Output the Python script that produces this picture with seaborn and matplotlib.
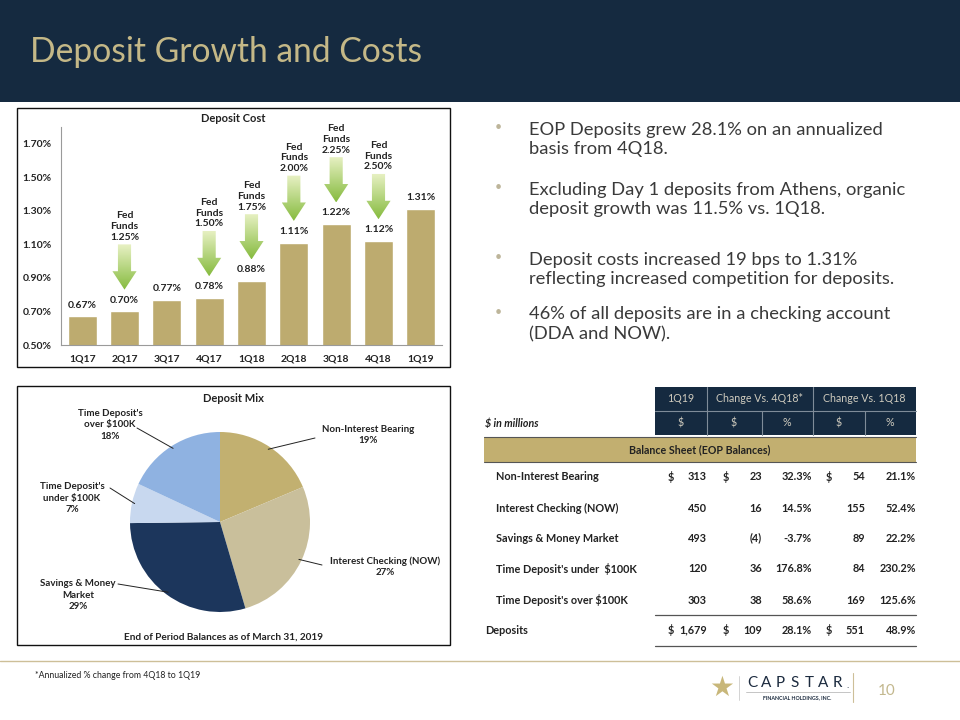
import numpy as np
import matplotlib
matplotlib.use("Agg")
import matplotlib.pyplot as plt
import seaborn as sns
from matplotlib.patches import Rectangle, Polygon
from matplotlib.lines import Line2D
from matplotlib.colors import LinearSegmentedColormap

# ---- data -------------------------------------------------------------
quarters = ['1Q17', '2Q17', '3Q17', '4Q17', '1Q18', '2Q18', '3Q18', '4Q18', '1Q19']
deposit_cost = [0.67, 0.70, 0.77, 0.78, 0.88, 1.11, 1.22, 1.12, 1.31]
fed_funds = [None, 1.25, None, 1.50, 1.75, 2.00, 2.25, 2.50, None]

mix_labels = ['Non-Interest Bearing', 'Interest Checking (NOW)', 'Savings & Money\nMarket',
              "Time Deposit's\nunder $100K", "Time Deposit's\nover $100K"]
row_labels = ['Non-Interest Bearing', 'Interest Checking (NOW)', 'Savings & Money Market',
              "Time Deposit's under  $100K", "Time Deposit's over $100K"]
bal_1q19 = [313, 450, 493, 120, 303]
chg_4q18 = [23, 16, -4, 36, 38]
pct_4q18 = [32.3, 14.5, -3.7, 176.8, 58.6]
chg_1q18 = [54, 155, 89, 84, 169]
pct_1q18 = [21.1, 52.4, 22.2, 230.2, 125.6]
total_pct_4q18 = 28.1
total_pct_1q18 = 48.9

bullets = ["EOP Deposits grew 28.1% on an annualized\nbasis from 4Q18.",
           "Excluding Day 1 deposits from Athens, organic\ndeposit growth was 11.5% vs. 1Q18.",
           "Deposit costs increased 19 bps to 1.31%\nreflecting increased competition for deposits.",
           "46% of all deposits are in a checking account\n(DDA and NOW)."]

# ---- style ------------------------------------------------------------
NAVY = '#152A40'
GOLD = '#C4B887'
BAR = '#BDAB6F'
PIE_COLORS = ['#C2B070', '#C9BF9B', '#1C365C', '#C8D8EF', '#8FB2E1']
TXT = '#222222'

sns.set_style('white')
plt.rcParams['font.family'] = ['Lato', 'DejaVu Sans']

W, H = 960, 720
fig = plt.figure(figsize=(9.6, 7.2), dpi=100)
fig.patch.set_facecolor('white')


def fx(x):
    return x / W


def fy(y):
    return 1 - y / H


def ftext(x, y, s, **kw):
    return fig.text(fx(x), fy(y), s, **kw)


def fline(xs, ys, **kw):
    fig.add_artist(Line2D([fx(x) for x in xs], [fy(y) for y in ys], transform=fig.transFigure, **kw))


def frect(x0, y0, x1, y1, **kw):
    fig.add_artist(Rectangle((fx(x0), fy(y1)), fx(x1) - fx(x0), fy(y0) - fy(y1),
                             transform=fig.transFigure, **kw))


# ---- header -----------------------------------------------------------
frect(0, 0, W, 102, facecolor=NAVY, edgecolor='none')
ftext(30, 52, 'Deposit Growth and Costs', color=GOLD, fontsize=24.2, va='center', ha='left')

# ---- deposit cost bar chart ------------------------------------------
frect(17, 108, 450, 367, facecolor='none', edgecolor='#111111', lw=1)
ax = fig.add_axes([fx(61), fy(345), fx(442) - fx(61), fy(127) - fy(345)])
sns.barplot(x=quarters, y=deposit_cost, color=BAR, saturation=1, width=0.68, ax=ax, zorder=2)
for i, v in enumerate(deposit_cost):
    ax.annotate(f'{v:.2f}%', (i, v), xytext=(0, 5), textcoords='offset points',
                ha='center', va='bottom', fontsize=7.5, fontweight='bold', color=TXT)

cmap = LinearSegmentedColormap.from_list('arrow', ['#86BB3F', '#E8F1C4'])
grad = np.linspace(0, 1, 64).reshape(-1, 1)
for i, (v, ff) in enumerate(zip(deposit_cost, fed_funds)):
    if ff is None:
        continue
    tip = v + 0.13
    neck = tip + 0.11
    top = tip + 0.27
    sw, hw = 0.155, 0.285
    pts = [(i - sw, top), (i + sw, top), (i + sw, neck), (i + hw, neck), (i, tip),
           (i - hw, neck), (i - sw, neck)]
    poly = Polygon(pts, closed=True, facecolor='none', edgecolor='none')
    ax.add_patch(poly)
    im = ax.imshow(grad, extent=[i - hw, i + hw, tip, top], origin='lower', cmap=cmap,
                   aspect='auto', zorder=3)
    im.set_clip_path(poly)
    ax.text(i, top + 0.015, f'Fed\nFunds\n{ff:.2f}%', ha='center', va='bottom',
            fontsize=7.5, fontweight='bold', color=TXT, linespacing=1.25)

ax.set_xlim(-0.5, len(quarters) - 0.5)
ax.set_ylim(0.5, 1.8)
yt = np.arange(0.5, 1.71, 0.2)
ax.set_yticks(yt)
ax.set_yticklabels([f'{t:.2f}%' for t in yt])
ax.tick_params(axis='both', length=0, labelsize=7.5, colors=TXT, pad=7)
for lab in ax.get_xticklabels() + ax.get_yticklabels():
    lab.set_fontweight('bold')
for s in ['top', 'right']:
    ax.spines[s].set_visible(False)
for s in ['left', 'bottom']:
    ax.spines[s].set_color('#9A9A9A')
    ax.spines[s].set_linewidth(0.8)
ax.set_xlabel('')
ax.set_ylabel('')
ax.set_facecolor('none')
ftext(233, 119, 'Deposit Cost', ha='center', va='center', fontsize=8, fontweight='bold', color=TXT)

# ---- deposit mix pie --------------------------------------------------
frect(17, 386, 450, 645, facecolor='none', edgecolor='#111111', lw=1)
ax2 = fig.add_axes([fx(130), fy(612), 180 / W, 180 / H])
wedges, _ = ax2.pie(bal_1q19, colors=PIE_COLORS, startangle=90, counterclock=False,
                    radius=1, wedgeprops=dict(linewidth=0))
ax2.set_xlim(-1, 1)
ax2.set_ylim(-1, 1)
ax2.axis('off')
total = sum(bal_1q19)
label_pos = [(368, 435), (385, 567), (78, 595), (72, 498), (110, 425)]
line_end = [(315, 438), (322, 565), (118, 584), (110, 488), (137, 428)]
for w, lab, val, (lx, ly), (ex, ey) in zip(wedges, mix_labels, bal_1q19, label_pos, line_end):
    ang = np.deg2rad((w.theta1 + w.theta2) / 2)
    ax2.annotate('', xy=(0.97 * np.cos(ang), 0.97 * np.sin(ang)), xycoords='data',
                 xytext=(fx(ex), fy(ey)), textcoords='figure fraction',
                 arrowprops=dict(arrowstyle='-', color='#222222', lw=0.7, shrinkA=0, shrinkB=0))
    ftext(lx, ly, f'{lab}\n{val / total * 100:.0f}%', ha='center', va='center', fontsize=7,
          fontweight='bold', color=TXT, linespacing=1.3)
ftext(233, 398, 'Deposit Mix', ha='center', va='center', fontsize=8, fontweight='bold', color=TXT)
ftext(223, 637, 'End of Period Balances as of March 31, 2019', ha='center', va='center',
      fontsize=7.2, fontweight='bold', color=TXT)

# ---- bullets ----------------------------------------------------------
for txt, yc in zip(bullets, [139.5, 199.5, 269.5, 324.5]):
    ftext(498, yc - 12.5, '\u2022', ha='center', va='center', fontsize=9, color='#BDB59A')
    ftext(529, yc, txt, ha='left', va='center', fontsize=13.2, color='#3A3A3A', linespacing=1.3)

# ---- table ------------------------------------------------------------
frect(655, 387, 916, 435, facecolor=NAVY, edgecolor='none')
hdr = '#CFCBBE'
fline([655, 916], [411, 411], color='#7F8C99', lw=0.8)
for x in [707, 813]:
    fline([x, x], [387, 435], color='#7F8C99', lw=0.8)
for x in [762, 865]:
    fline([x, x], [411, 435], color='#7F8C99', lw=0.8)
for s, x in [('1Q19', 681), ('Change Vs. 4Q18*', 760), ('Change Vs. 1Q18', 864)]:
    ftext(x, 399, s, ha='center', va='center', fontsize=7.7, color=hdr)
for s, x in [('$', 681), ('$', 734), ('%', 787), ('$', 839), ('%', 890)]:
    ftext(x, 423, s, ha='center', va='center', fontsize=7.7, color=hdr)
ftext(485, 423, '$ in millions', ha='left', va='center', fontsize=7.7, style='italic',
      fontweight='bold', color=TXT)
frect(484, 437, 916, 462, facecolor='#C2AF70', edgecolor='none')
fline([484, 916], [437, 437], color='#555555', lw=0.8)
fline([484, 916], [462, 462], color='#555555', lw=0.8)
ftext(700, 450, 'Balance Sheet (EOP Balances)', ha='center', va='center', fontsize=7.7,
      fontweight='bold', color=TXT)


def money(v):
    return f'({abs(v):,})' if v < 0 else f'{v:,}'


def table_row(y, label, lx, b, c4, p4, c1, p1, dollars):
    kw = dict(va='center', fontsize=7.8, fontweight='bold', color=TXT)
    ftext(lx, y, label, ha='left', **kw)
    if dollars:
        for x in [668, 723, 826]:
            ftext(x, y, '$', ha='left', **kw)
    ftext(707, y, money(b), ha='right', **kw)
    ftext(762, y, money(c4), ha='right', **kw)
    ftext(812, y, f'{p4:.1f}%', ha='right', **kw)
    ftext(865, y, money(c1), ha='right', **kw)
    ftext(916, y, f'{p1:.1f}%', ha='right', **kw)


for k, y in enumerate([477, 508, 538, 569, 600]):
    table_row(y, row_labels[k], 496, bal_1q19[k], chg_4q18[k], pct_4q18[k],
              chg_1q18[k], pct_1q18[k], k == 0)
table_row(630, 'Deposits', 485, sum(bal_1q19), sum(chg_4q18), total_pct_4q18,
          sum(chg_1q18), total_pct_1q18, True)
fline([655, 916], [615, 615], color='#555555', lw=0.9)
fline([655, 916], [646, 646], color='#555555', lw=0.9)

# ---- footer -----------------------------------------------------------
fline([0, W], [661, 661], color='#CDBF98', lw=1)
ftext(35, 676, '*Annualized % change from 4Q18 to 1Q19', ha='left', va='center',
      fontsize=6.3, color=TXT)
ftext(722, 688, '\u2605', ha='center', va='center', fontsize=20, color='#C8B77A',
      family='DejaVu Sans')
fline([739, 739], [676, 700], color='#CCCCCC', lw=0.6)
for k, ch in enumerate('CAPSTAR'):
    ftext(752 + k * 14.3, 683, ch, ha='center', va='center', fontsize=11, color='#1C2B3F')
ftext(848, 686, '.', ha='center', va='center', fontsize=7, color='#1C2B3F')
fline([746, 850], [692, 692], color='#BBBBBB', lw=0.6)
ftext(797, 697.5, 'FINANCIAL HOLDINGS, INC.', ha='center', va='center', fontsize=3.8,
      fontweight='bold', color='#1C2B3F')
fline([853, 853], [673, 702], color='#CDBF98', lw=0.8)
ftext(887, 691, '10', ha='center', va='center', fontsize=11, color='#C3B88E')

fig.savefig('out.png', dpi=100, facecolor='white')
